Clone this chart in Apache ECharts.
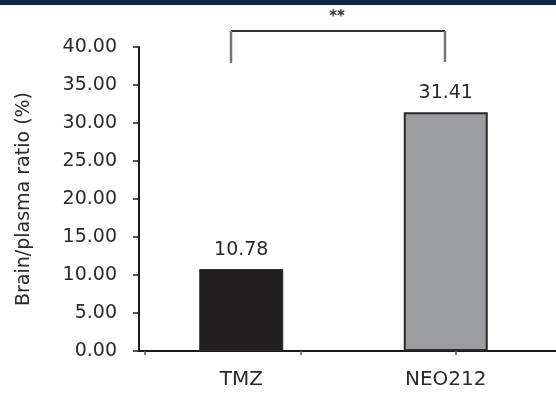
<!DOCTYPE html>
<html>
<head>
<meta charset="utf-8">
<script src="https://cdn.jsdelivr.net/npm/echarts@6/dist/echarts.min.js"></script>
<style>
html,body{margin:0;padding:0;background:#fff;}
#chart{width:556px;height:394px;}
</style>
</head>
<body>
<div id="chart"></div>
<script>
const categories = ['TMZ', 'NEO212'];
const values = [10.78, 31.41];
const barColors = ['#231f20', '#9c9da1'];
const yTicks = [0, 5, 10, 15, 20, 25, 30, 35, 40];
const xTickMarks = [0.0147, 0.395, 0.774];
const yTitle = 'Brain/plasma ratio (%)';
const sigText = '**';

const FONT = 'DejaVu Sans';
const chart = echarts.init(document.getElementById('chart'), null, {renderer: 'canvas'});

const option = {
  animation: false,
  backgroundColor: '#fff',
  grid: {left: 139, right: 8, top: 47, bottom: 43, containLabel: false},
  xAxis: [{
    type: 'category',
    data: categories,
    axisLine: {show: true, lineStyle: {color: '#1a1a1a', width: 2}},
    axisTick: {show: false},
    axisLabel: {color: '#2a2a2a', fontFamily: FONT, fontSize: 20, margin: 19}
  }, {
    type: 'value',
    position: 'bottom',
    min: 0, max: 1,
    axisLine: {show: false},
    splitLine: {show: false},
    axisLabel: {show: false},
    axisTick: {show: true, length: 4, customValues: xTickMarks, lineStyle: {color: '#555', width: 1.5}}
  }],
  yAxis: {
    type: 'value',
    min: yTicks[0], max: yTicks[yTicks.length - 1], interval: 5,
    name: yTitle,
    nameLocation: 'middle',
    nameRotate: 90,
    nameGap: 105,
    nameTextStyle: {color: '#2a2a2a', fontFamily: FONT, fontSize: 19},
    axisLine: {show: true, lineStyle: {color: '#1a1a1a', width: 2}},
    axisTick: {show: true, length: 6, lineStyle: {color: '#1a1a1a', width: 1.5}},
    splitLine: {show: false},
    axisLabel: {color: '#2a2a2a', fontFamily: FONT, fontSize: 19, margin: 22,
      formatter: v => v.toFixed(2)}
  },
  series: [{
    type: 'bar',
    xAxisIndex: 0,
    barWidth: 84,
    data: values.map((v, i) => ({
      value: v,
      itemStyle: {color: barColors[i], borderColor: '#2a2a2a', borderWidth: i === 0 ? 1 : 2}
    })),
    label: {show: true, position: 'top', distance: 10, color: '#2a2a2a',
      fontFamily: FONT, fontSize: 19, formatter: p => p.value.toFixed(2)}
  }],
  graphic: [
    {type: 'rect', left: 0, top: 0, shape: {x: 0, y: 0, width: 556, height: 5}, style: {fill: '#0c2749'}, silent: true},
    {type: 'line', shape: {x1: 548, y1: 351, x2: 556, y2: 351}, style: {stroke: '#1a1a1a', lineWidth: 2}, silent: true},
    {type: 'line', shape: {x1: 231, y1: 31, x2: 445, y2: 31}, style: {stroke: '#333', lineWidth: 2}, silent: true},
    {type: 'line', shape: {x1: 231, y1: 31, x2: 231, y2: 63}, style: {stroke: '#777', lineWidth: 2.5}, silent: true},
    {type: 'line', shape: {x1: 445, y1: 31, x2: 445, y2: 62}, style: {stroke: '#777', lineWidth: 2.5}, silent: true},
    {type: 'text', x: 337, y: 17, style: {text: sigText, fill: '#333', font: 'bold 15px ' + FONT, textAlign: 'center', textVerticalAlign: 'middle'}, silent: true}
  ]
};
chart.setOption(option);
</script>
</body>
</html>
